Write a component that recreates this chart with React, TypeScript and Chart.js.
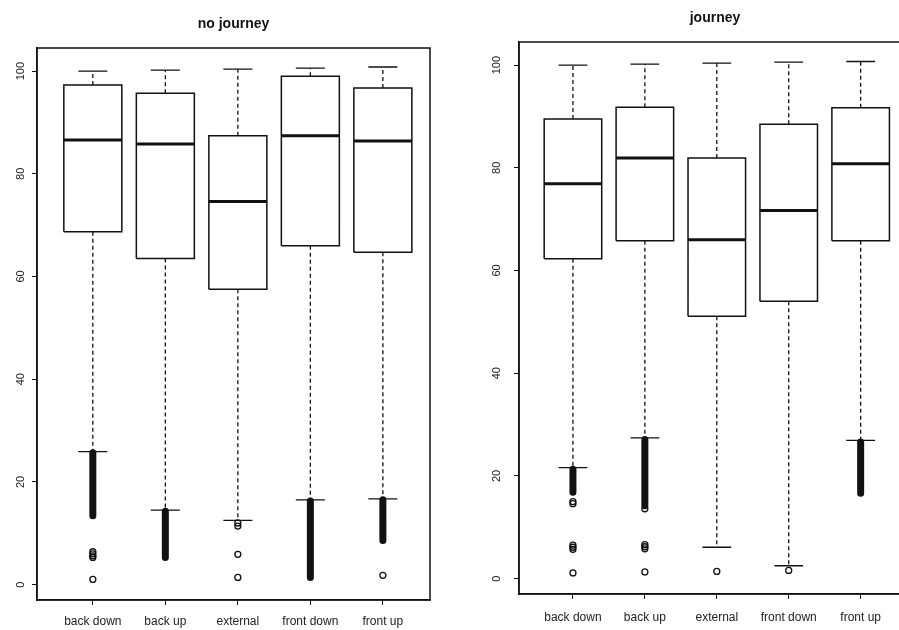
import React, { useEffect, useRef } from "react";
import { Chart, registerables } from "chart.js";

Chart.register(...registerables);

const categories = ["back down", "back up", "external", "front down", "front up"];
const yTicks = [0, 20, 40, 60, 80, 100];

// "no journey" panel
const njWhiskerHigh = [100.0, 100.2, 100.4, 100.6, 100.8];
const njQ3 = [97.3, 95.7, 87.4, 99.0, 96.7];
const njMedian = [86.6, 85.8, 74.6, 87.4, 86.4];
const njQ1 = [68.7, 63.5, 57.5, 66.0, 64.7];
const njWhiskerLow = [25.9, 14.5, 12.5, 16.5, 16.7];
const njDenseHigh = [25.7, 14.3, null, 16.3, 16.5];
const njDenseLow = [13.4, 5.3, null, 1.4, 8.6];
const njOutliers = [[6.4, 6.0, 5.6, 5.3, 1.0], [], [12.0, 11.4, 5.9, 1.4], [], [1.8]];

// "journey" panel
const jWhiskerHigh = [100.0, 100.2, 100.4, 100.6, 100.7];
const jQ3 = [89.5, 91.8, 81.9, 88.5, 91.7];
const jMedian = [76.9, 81.9, 66.0, 71.7, 80.8];
const jQ1 = [62.3, 65.8, 51.1, 54.0, 65.8];
const jWhiskerLow = [21.6, 27.4, 6.1, 2.5, 26.9];
const jDenseHigh = [21.3, 27.1, null, null, 26.6];
const jDenseLow = [16.8, 14.2, null, null, 16.6];
const jOutliers = [[15.0, 14.6, 6.5, 6.1, 5.7, 1.1], [13.6, 6.6, 6.2, 5.8, 1.3], [1.4], [1.6], []];

const INK = "#111";
const FONT = "'Liberation Sans', Arial, sans-serif";

type Panel = {
  title: string;
  wh: number[];
  q3: number[];
  med: number[];
  q1: number[];
  wl: number[];
  dh: (number | null)[];
  dl: (number | null)[];
  out: number[][];
};

const BOX_HALF = 0.4;
const CAP_HALF = 0.2;

function buildDatasets(p: Panel) {
  const gap = (x: number) => ({ x, y: null as any });
  const boxes: any[] = [];
  const medians: any[] = [];
  const whiskers: any[] = [];
  const caps: any[] = [];
  const dense: any[] = [];
  const outliers: any[] = [];
  categories.forEach((_, i) => {
    const c = i + 1;
    const x0 = c - BOX_HALF;
    const x1 = c + BOX_HALF;
    boxes.push({ x: x0, y: p.q1[i] }, { x: x1, y: p.q1[i] }, { x: x1, y: p.q3[i] }, { x: x0, y: p.q3[i] }, { x: x0, y: p.q1[i] }, gap(c));
    medians.push({ x: x0, y: p.med[i] }, { x: x1, y: p.med[i] }, gap(c));
    whiskers.push({ x: c, y: p.q3[i] }, { x: c, y: p.wh[i] }, gap(c), { x: c, y: p.q1[i] }, { x: c, y: p.wl[i] }, gap(c));
    caps.push(
      { x: c - CAP_HALF, y: p.wh[i] }, { x: c + CAP_HALF, y: p.wh[i] }, gap(c),
      { x: c - CAP_HALF, y: p.wl[i] }, { x: c + CAP_HALF, y: p.wl[i] }, gap(c)
    );
    const hi = p.dh[i];
    const lo = p.dl[i];
    if (hi !== null && lo !== null) {
      dense.push({ x: c, y: hi }, { x: c, y: lo }, gap(c));
    }
    p.out[i].forEach((v) => outliers.push({ x: c, y: v }));
  });
  const lineBase = { pointRadius: 0, borderColor: INK, tension: 0, spanGaps: false, fill: false };
  return [
    { ...lineBase, label: "median", data: medians, borderWidth: 3 },
    { ...lineBase, label: "box", data: boxes, borderWidth: 1.5, borderJoinStyle: "miter" },
    { ...lineBase, label: "caps", data: caps, borderWidth: 1.3 },
    { ...lineBase, label: "whiskers", data: whiskers, borderWidth: 1.3, borderDash: [4, 3] },
    { ...lineBase, label: "dense outliers", data: dense, borderWidth: 7, borderCapStyle: "round" },
    {
      label: "outliers",
      data: outliers,
      showLine: false,
      pointRadius: 3,
      pointBorderWidth: 1.3,
      pointBorderColor: INK,
      pointBackgroundColor: "rgba(0,0,0,0)",
    },
  ];
}

const framePlugin = {
  id: "frame",
  afterDatasetsDraw(chart: any) {
    const { ctx, chartArea: a } = chart;
    ctx.save();
    ctx.strokeStyle = INK;
    ctx.lineWidth = 1.5;
    ctx.strokeRect(a.left, a.top, a.right - a.left, a.bottom - a.top);
    ctx.restore();
  },
};

type Layout = {
  xMin: number;
  xMax: number;
  yAxisW: number;
  xAxisH: number;
  padRight: number;
  titleTop: number;
  titleBottom: number;
  yLabelPad: number;
  xLabelPad: number;
};

function BoxPanel({ panel, layout, left, width }: { panel: Panel; layout: Layout; left: number; width: number }) {
  const ref = useRef<HTMLCanvasElement>(null);
  useEffect(() => {
    if (!ref.current) return;
    const chart = new Chart(ref.current, {
      type: "line",
      data: { datasets: buildDatasets(panel) as any },
      plugins: [framePlugin],
      options: {
        animation: false,
        responsive: false,
        layout: { padding: { left: 0, right: layout.padRight, top: 0, bottom: 0 } },
        plugins: {
          legend: { display: false },
          tooltip: { enabled: false },
          title: {
            display: true,
            text: panel.title,
            fullSize: false,
            color: INK,
            font: { family: FONT, size: 14, weight: "bold" },
            padding: { top: layout.titleTop, bottom: layout.titleBottom },
          },
        },
        scales: {
          x: {
            type: "linear",
            min: layout.xMin,
            max: layout.xMax,
            afterBuildTicks: (s: any) => {
              s.ticks = categories.map((_, i) => ({ value: i + 1 }));
            },
            afterFit: (s: any) => {
              s.height = layout.xAxisH;
            },
            ticks: {
              callback: (_v: any, index: number) => categories[index] ?? "",
              autoSkip: false,
              minRotation: 0,
              maxRotation: 0,
              padding: layout.xLabelPad,
              color: "#222",
              font: { family: FONT, size: 12 },
            },
            grid: { display: true, drawOnChartArea: false, drawTicks: true, tickLength: 5, color: INK, lineWidth: 1 },
            border: { display: true, color: INK, width: 1.5 },
          },
          y: {
            type: "linear",
            min: -3,
            max: 104.5,
            afterBuildTicks: (s: any) => {
              s.ticks = yTicks.map((v) => ({ value: v }));
            },
            afterFit: (s: any) => {
              s.width = layout.yAxisW;
            },
            ticks: {
              minRotation: 90,
              maxRotation: 90,
              crossAlign: "center",
              padding: layout.yLabelPad,
              color: "#222",
              font: { family: FONT, size: 11 },
            },
            grid: { display: true, drawOnChartArea: false, drawTicks: true, tickLength: 5, color: INK, lineWidth: 1 },
            border: { display: true, color: INK, width: 1.5 },
          },
        },
      } as any,
    });
    return () => chart.destroy();
  }, []);
  return (
    <canvas
      ref={ref}
      width={width}
      height={630}
      style={{ position: "absolute", left, top: 0, width, height: 630 }}
    />
  );
}

const noJourney: Panel = {
  title: "no journey",
  wh: njWhiskerHigh,
  q3: njQ3,
  med: njMedian,
  q1: njQ1,
  wl: njWhiskerLow,
  dh: njDenseHigh,
  dl: njDenseLow,
  out: njOutliers,
};

const journey: Panel = {
  title: "journey",
  wh: jWhiskerHigh,
  q3: jQ3,
  med: jMedian,
  q1: jQ1,
  wl: jWhiskerLow,
  dh: jDenseHigh,
  dl: jDenseLow,
  out: jOutliers,
};

const leftLayout: Layout = {
  xMin: 0.23,
  xMax: 5.65,
  yAxisW: 37,
  xAxisH: 30,
  padRight: 20,
  titleTop: 15.6,
  titleBottom: 15.6,
  yLabelPad: 2,
  xLabelPad: 9,
};

const rightLayout: Layout = {
  xMin: 0.25,
  xMax: 5.7,
  yAxisW: 49,
  xAxisH: 36,
  padRight: 9,
  titleTop: 9.6,
  titleBottom: 15.6,
  yLabelPad: 8,
  xLabelPad: 11,
};

export default function App() {
  return (
    <div
      style={{
        position: "absolute",
        left: 0,
        top: 0,
        width: 899,
        height: 630,
        overflow: "hidden",
        background: "#fff",
      }}
    >
      <BoxPanel panel={noJourney} layout={leftLayout} left={0} width={450} />
      <BoxPanel panel={journey} layout={rightLayout} left={470} width={450} />
    </div>
  );
}
